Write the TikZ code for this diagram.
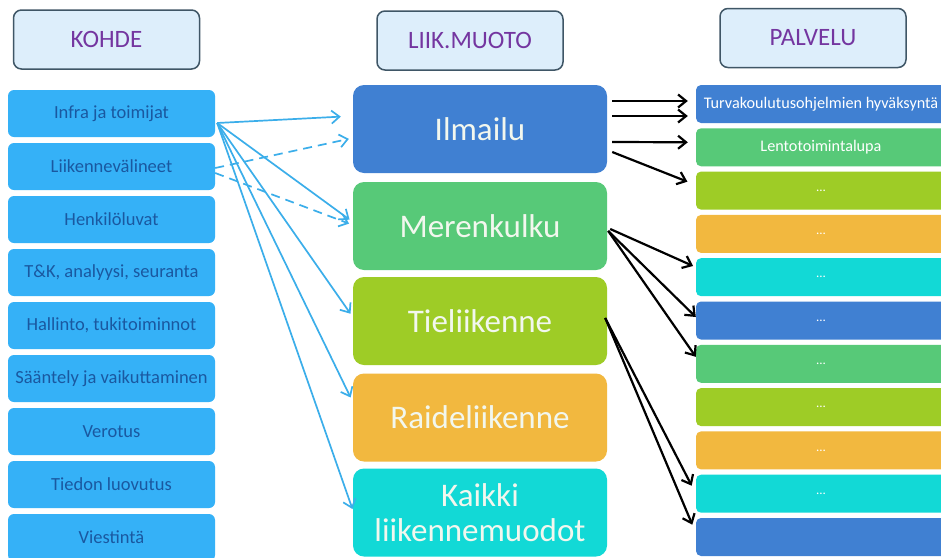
\documentclass[tikz,border=0pt]{standalone}
\usepackage{fontspec}
\setmainfont{Carlito}
\usetikzlibrary{arrows.meta}
\definecolor{hdrfill}{HTML}{DDEEFB}
\definecolor{hdrdraw}{HTML}{3F5666}
\definecolor{hdrtext}{HTML}{7436A0}
\definecolor{kfill}{HTML}{35B1F7}
\definecolor{ktext}{HTML}{1A58A0}
\definecolor{cblue}{HTML}{4080D2}
\definecolor{cgreen}{HTML}{57C978}
\definecolor{cygreen}{HTML}{9ECC26}
\definecolor{corange}{HTML}{F2B83F}
\definecolor{ccyan}{HTML}{12D9D6}
\definecolor{lnblue}{HTML}{3BAEEA}
\definecolor{mtext}{HTML}{F2F7EE}
\tikzset{
  hdr/.style={draw=hdrdraw, line width=1.5pt, fill=hdrfill, rounded corners=8pt,
    minimum width=186pt, minimum height=59pt, text=hdrtext, font=\fontsize{25}{28}\selectfont},
  kbox/.style={fill=kfill, rounded corners=6pt, minimum width=207pt, minimum height=47pt,
    text=ktext, font=\fontsize{18.5}{21}\selectfont},
  mbox/.style={rounded corners=11pt, minimum width=254pt, minimum height=88pt,
    text=mtext, align=center, font=\fontsize{33}{35}\selectfont},
  pbox/.style={rounded corners=5pt, minimum width=250pt, minimum height=38pt,
    text=white, font=\fontsize{16.2}{18}\selectfont},
  barrow/.style={lnblue, line width=1.7pt, -{Straight Barb[length=8pt,width=13pt,line width=1.7pt]}},
  karrow/.style={black, line width=2.2pt, -{Straight Barb[length=8pt,width=13pt,line width=2.2pt]}},
  dots/.style={font=\fontsize{13}{14}\selectfont}
}
\begin{document}
\begin{tikzpicture}[x=1pt,y=-1pt]
\clip (0,0) rectangle (941,557);
\useasboundingbox (0,0) rectangle (941,557);
\fill[white] (0,0) rectangle (941,557);

% headers
\node[hdr] (h1) at (106.5,39.5) {KOHDE};
\node[hdr] (h2) at (470,40.5) {LIIK.MUOTO};
\node[hdr] (h3) at (813,38) {PALVELU};

% left column
\node[kbox] (k1) at (111.5,113.5) {Infra ja toimijat};
\node[kbox] (k2) at (111.5,166.5) {Liikennevälineet};
\node[kbox] (k3) at (111.5,219.5) {Henkilöluvat};
\node[kbox] (k4) at (111.5,272.5) {T\&K, analyysi, seuranta};
\node[kbox] (k5) at (111.5,325.5) {Hallinto, tukitoiminnot};
\node[kbox] (k6) at (111.5,378.5) {Sääntely ja vaikuttaminen};
\node[kbox] (k7) at (111.5,431.5) {Verotus};
\node[kbox] (k8) at (111.5,484.5) {Tiedon luovutus};
\node[kbox] (k9) at (111.5,537.5) {Viestintä};

% middle column
\node[mbox, fill=cblue] (m1) at (480,129) {Ilmailu};
\node[mbox, fill=cgreen] (m2) at (480,226) {Merenkulku};
\node[mbox, fill=cygreen] (m3) at (480,321) {Tieliikenne};
\node[mbox, fill=corange] (m4) at (480,417.5) {Raideliikenne};
\node[mbox, fill=ccyan] (m5) at (480,512.5) {Kaikki\\liikennemuodot};

% right column
\node[pbox, fill=cblue] (p1) at (821,104) {Turvakoulutusohjelmien hyväksyntä};
\node[pbox, fill=cgreen] (p2) at (821,147.3) {Lentotoimintalupa};
\node[pbox, fill=cygreen, dots] (p3) at (821,190.6) {...};
\node[pbox, fill=corange, dots] (p4) at (821,233.9) {...};
\node[pbox, fill=ccyan, dots] (p5) at (821,277.2) {...};
\node[pbox, fill=cblue, dots] (p6) at (821,320.5) {...};
\node[pbox, fill=cgreen, dots] (p7) at (821,363.8) {...};
\node[pbox, fill=cygreen, dots] (p8) at (821,407.1) {...};
\node[pbox, fill=corange, dots] (p9) at (821,450.4) {...};
\node[pbox, fill=ccyan, dots] (p10) at (821,493.7) {...};
\node[pbox, fill=cblue] (p11) at (821,537) {};

% blue connectors
\draw[barrow, shorten >=12pt] ([xshift=2pt,yshift=-9.5pt]k1.east) -- ([yshift=13pt]m1.west);
\draw[barrow, shorten >=4pt] ([xshift=2pt,yshift=-9.5pt]k1.east) -- ([yshift=4pt]m2.west);
\draw[barrow, shorten >=4pt] ([xshift=2pt,yshift=-9.5pt]k1.east) -- ([yshift=4pt]m3.west);
\draw[barrow, shorten >=5pt] ([xshift=2pt,yshift=-9.5pt]k1.east) -- ([yshift=15.5pt]m4.west);
\draw[barrow, shorten >=1pt] ([xshift=2pt,yshift=-9.5pt]k1.east) -- ([yshift=2.5pt]m5.west);
\draw[barrow, dash pattern=on 9pt off 6pt, shorten >=4pt] ([yshift=-1.5pt]k2.east) -- ([yshift=-9pt]m1.west);
\draw[barrow, dash pattern=on 9pt off 6pt, shorten >=4pt] ([yshift=-6.5pt]k2.east) -- ([yshift=1pt]m2.west);

% black connectors
\draw[karrow, shorten >=8pt] ([xshift=5pt,yshift=28pt]m1.east) -- ([yshift=3pt]p1.west);
\draw[karrow, shorten >=8pt] ([xshift=5pt,yshift=13pt]m1.east) -- ([yshift=-12pt]p1.west);
\draw[karrow, shorten >=8pt] ([xshift=5pt,yshift=-13pt]m1.east) -- ([yshift=5pt]p2.west);
\draw[karrow, shorten >=9pt] ([xshift=5pt,yshift=-23pt]m1.east) -- ([yshift=5.6pt]p3.west);
\draw[karrow, shorten >=3pt] ([xshift=3pt,yshift=-3pt]m2.east) -- ([yshift=10pt]p5.west);
\draw[karrow, shorten >=0pt] ([xshift=1pt,yshift=-5pt]m2.east) -- ([yshift=3.5pt]p6.west);
\draw[karrow, shorten >=0pt] ([xshift=1pt,yshift=-5pt]m2.east) -- ([yshift=7pt]p7.west);
\draw[karrow, shorten >=9pt] ([xshift=-2pt,yshift=3pt]m3.east) -- (p10.west);
\draw[karrow, shorten >=9pt] ([xshift=-2pt,yshift=3pt]m3.east) -- ([yshift=4pt]p11.west);
\end{tikzpicture}
\end{document}
